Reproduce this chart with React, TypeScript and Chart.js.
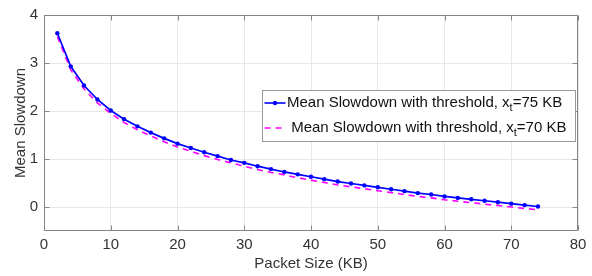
import React, { useEffect, useRef } from "react";
import { Chart, registerables } from "chart.js";

Chart.register(...registerables);

// ---------- data ----------
const packetSizes = [
  2, 4, 6, 8, 10, 12, 14, 16, 18, 20, 22, 24, 26, 28, 30, 32, 34, 36, 38,
  40, 42, 44, 46, 48, 50, 52, 54, 56, 58, 60, 62, 64, 66, 68, 70, 72, 74,
];
const slowdown75 = [
  3.62, 2.93, 2.53, 2.24, 2.01, 1.83, 1.68, 1.55, 1.43, 1.32, 1.23, 1.14,
  1.06, 0.98, 0.92, 0.85, 0.79, 0.73, 0.68, 0.63, 0.58, 0.53, 0.49, 0.45,
  0.41, 0.37, 0.33, 0.29, 0.26, 0.22, 0.19, 0.16, 0.13, 0.1, 0.07, 0.04, 0.01,
];
const slowdown70 = [
  3.55, 2.86, 2.46, 2.17, 1.95, 1.76, 1.61, 1.48, 1.36, 1.25, 1.16, 1.07,
  0.99, 0.92, 0.85, 0.78, 0.72, 0.67, 0.61, 0.56, 0.51, 0.46, 0.42, 0.38,
  0.34, 0.3, 0.26, 0.22, 0.19, 0.15, 0.12, 0.09, 0.06, 0.03, 0.0, -0.03, -0.06,
];
const xTicks = [0, 10, 20, 30, 40, 50, 60, 70, 80];
const yTicks = [0, 1, 2, 3, 4];
const xTitle = "Packet Size (KB)";
const yTitle = "Mean Slowdown";
const legendPre = ["Mean Slowdown with threshold, x", " Mean Slowdown with threshold, x"];
const legendSub = ["t", "t"];
const legendPost = ["=75 KB", "=70 KB"];

// ---------- styles ----------
const FONT = "'Liberation Sans', Arial, Helvetica, sans-serif";
const TEXT = "#333333";
const AXIS = "#858585";
const GRID = "#e8e8e8";
const BLUE = "#0000ff";
const MAGENTA = "#ff00ff";

const boxPlugin = {
  id: "matlabBox",
  afterDatasetsDraw(chart: any) {
    const { ctx, chartArea, scales } = chart;
    const { left, right, top, bottom } = chartArea;
    ctx.save();
    ctx.strokeStyle = AXIS;
    ctx.lineWidth = 1;
    ctx.beginPath();
    const L = Math.round(left) + 0.5;
    const R = Math.round(right) - 0.5;
    const T = Math.round(top) + 0.5;
    const B = Math.round(bottom) - 0.5;
    ctx.moveTo(L, T);
    ctx.lineTo(R, T);
    ctx.lineTo(R, B);
    ctx.lineTo(L, B);
    ctx.closePath();
    const tl = 5;
    xTicks.forEach((v) => {
      const px = Math.round(scales.x.getPixelForValue(v)) + 0.5;
      ctx.moveTo(px, B);
      ctx.lineTo(px, B - tl);
      ctx.moveTo(px, T);
      ctx.lineTo(px, T + tl);
    });
    yTicks.forEach((v) => {
      const py = Math.round(scales.y.getPixelForValue(v)) + 0.5;
      ctx.moveTo(L, py);
      ctx.lineTo(L + tl, py);
      ctx.moveTo(R, py);
      ctx.lineTo(R - tl, py);
    });
    ctx.stroke();
    ctx.restore();
  },
};

const legendPlugin = {
  id: "matlabLegend",
  afterDraw(chart: any) {
    const { ctx, chartArea } = chart;
    const bx = Math.round(chartArea.right) - 316 + 0.5;
    const by = Math.round(chartArea.top) + 75 + 0.5;
    const bw = 313;
    const bh = 51;
    ctx.save();
    ctx.fillStyle = "#ffffff";
    ctx.fillRect(bx, by, bw, bh);
    ctx.strokeStyle = "#999999";
    ctx.lineWidth = 1;
    ctx.strokeRect(bx, by, bw, bh);

    const rows = [by + 12.5, by + 37.5];
    const colors = [BLUE, MAGENTA];
    rows.forEach((cy, i) => {
      const x0 = bx + 2;
      const x1 = bx + 23;
      ctx.strokeStyle = colors[i];
      ctx.lineWidth = 1.6;
      if (i === 1) ctx.setLineDash([6, 5]);
      else ctx.setLineDash([]);
      ctx.beginPath();
      ctx.moveTo(x0, cy);
      ctx.lineTo(x1, cy);
      ctx.stroke();
      ctx.setLineDash([]);
      if (i === 0) {
        ctx.fillStyle = BLUE;
        ctx.beginPath();
        ctx.arc((x0 + x1) / 2, cy, 2.2, 0, Math.PI * 2);
        ctx.fill();
      }
      ctx.fillStyle = "#111111";
      ctx.textBaseline = "middle";
      ctx.textAlign = "left";
      let tx = bx + 24.5;
      ctx.font = `15px ${FONT}`;
      ctx.fillText(legendPre[i], tx, cy);
      tx += ctx.measureText(legendPre[i]).width;
      ctx.font = `11px ${FONT}`;
      ctx.fillText(legendSub[i], tx, cy + 5);
      tx += ctx.measureText(legendSub[i]).width;
      ctx.font = `15px ${FONT}`;
      ctx.fillText(legendPost[i], tx, cy);
    });
    ctx.restore();
  },
};

export default function App() {
  const canvasRef = useRef<HTMLCanvasElement | null>(null);

  useEffect(() => {
    if (!canvasRef.current) return;
    const chart = new Chart(canvasRef.current, {
      type: "line",
      data: {
        labels: packetSizes,
        datasets: [
          {
            label: legendPre[0] + legendSub[0] + legendPost[0],
            data: packetSizes.map((x, i) => ({ x, y: slowdown75[i] })),
            borderColor: BLUE,
            backgroundColor: BLUE,
            borderWidth: 1.7,
            pointRadius: 2.2,
            pointBorderWidth: 0,
            pointBackgroundColor: BLUE,
            tension: 0,
          },
          {
            label: legendPre[1] + legendSub[1] + legendPost[1],
            data: packetSizes.map((x, i) => ({ x, y: slowdown70[i] })),
            borderColor: MAGENTA,
            backgroundColor: MAGENTA,
            borderWidth: 1.6,
            borderDash: [6, 5],
            pointRadius: 0,
            tension: 0,
          },
        ],
      },
      options: {
        animation: false,
        responsive: false,
        maintainAspectRatio: false,
        devicePixelRatio: 1,
        layout: { padding: { top: 12, right: 14, left: 0, bottom: 0 } },
        plugins: {
          legend: { display: false },
          tooltip: { enabled: false },
        },
        scales: {
          x: {
            type: "linear",
            min: 0,
            max: 80,
            afterBuildTicks: (s: any) => {
              s.ticks = xTicks.map((v) => ({ value: v }));
            },
            afterFit: (s: any) => {
              s.height = 45;
            },
            grid: { color: GRID, drawTicks: false, lineWidth: 1 },
            border: { display: false },
            ticks: {
              padding: 5,
              color: TEXT,
              font: { family: FONT, size: 15 },
              maxRotation: 0,
            },
            title: {
              display: true,
              text: xTitle,
              color: TEXT,
              font: { family: FONT, size: 15 },
              padding: { top: 0, bottom: 3 },
            },
          },
          y: {
            type: "linear",
            min: -0.5,
            max: 4,
            afterBuildTicks: (s: any) => {
              s.ticks = yTicks.map((v) => ({ value: v }));
            },
            afterFit: (s: any) => {
              s.width = 44;
            },
            grid: { color: GRID, drawTicks: false, lineWidth: 1 },
            border: { display: false },
            ticks: {
              padding: 6,
              color: TEXT,
              font: { family: FONT, size: 15 },
            },
            title: {
              display: true,
              text: yTitle,
              color: TEXT,
              font: { family: FONT, size: 15 },
              padding: { top: 12, bottom: 0 },
            },
          },
        },
      },
      plugins: [boxPlugin, legendPlugin],
    } as any);
    return () => chart.destroy();
  }, []);

  return (
    <div style={{ position: "fixed", left: 0, top: 0, width: 592, height: 276, background: "#fff" }}>
      <canvas ref={canvasRef} width={592} height={276} style={{ width: 592, height: 276, display: "block" }} />
    </div>
  );
}
